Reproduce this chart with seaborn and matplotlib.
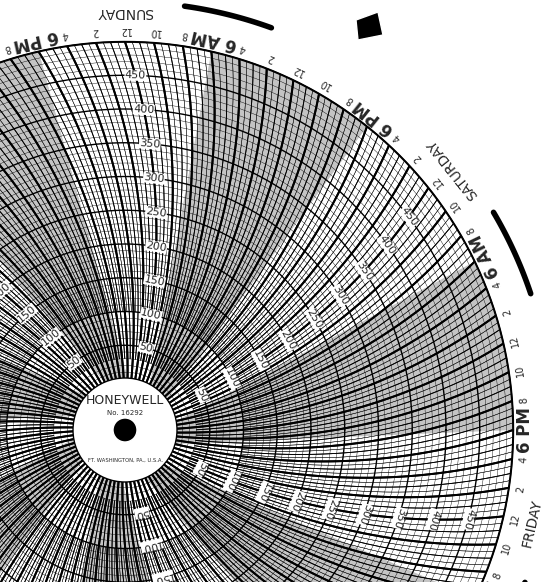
import numpy as np
import pandas as pd
import matplotlib
matplotlib.use("Agg")
import matplotlib.pyplot as plt
from matplotlib.collections import LineCollection
from matplotlib.patches import Circle, Polygon
import seaborn as sns

# ---- data ----
scale_values = [50, 100, 150, 200, 250, 300, 350, 400, 450]
days = ["THURSDAY", "FRIDAY", "SATURDAY", "SUNDAY", "MONDAY"]
day_noon_offset = [-30, -6, 18, 42, 66]          # hours from Friday 6 PM
hour_labels = ["12", "2", "4", "6 AM", "8", "10", "12", "2", "4", "6 PM", "8", "10"]
hour_label_offset = [6, 8, 10, 12, 14, 16, 18, 20, 22, 24, 26, 28]
brand = "HONEYWELL"
chart_no = "No. 16292"
maker = "FT. WASHINGTON, PA., U.S.A."

sns.set_style("white")
W, H = 552, 582
fig = plt.figure(figsize=(W / 100, H / 100), dpi=100)
ax = fig.add_axes([0, 0, 1, 1])
ax.set_xlim(0, W); ax.set_ylim(H, 0); ax.set_aspect("equal"); ax.axis("off")

cx, cy = 125, 430
R = 388.0
r_hub = 52.0
deg_per_h = 360 / 168

def rv(v):
    return 51 + v * 0.675

def xy(r, th):
    t = np.radians(th)
    return cx + r * np.cos(t), cy - r * np.sin(t)

def arc_angle(r, th0):
    return th0 - 0.6 * (np.degrees(np.arccos(np.clip(r / (2 * R), 0, 1))) - 60)

# night bands (6 PM - 6 AM)
for k in range(-5, 5):
    t0, t1 = k * 24, k * 24 + 12
    th = np.linspace(t0, t1, 60) * deg_per_h
    outer = [xy(R, arc_angle(R, a)) for a in th]
    inner = [xy(r_hub, arc_angle(r_hub, a)) for a in th[::-1]]
    ax.add_patch(Polygon(outer + inner, closed=True, fc="#c4c4c4", ec="none", zorder=0))

phi = np.linspace(0, 360, 720)
for v in range(0, 501, 10):
    lw = 1.0 if v % 50 == 0 else 0.3
    x, y = xy(rv(v), phi)
    ax.plot(x, y, color="black", lw=lw, zorder=1)

segs, lws = [], []
for m in range(-168 * 2, 168 * 2):
    t = m / 2.0
    if m % 4 == 0:
        r0, lw = r_hub, 1.4
    elif m % 2 == 0:
        r0, lw = rv(30), 0.6
    else:
        r0, lw = rv(100), 0.3
    rs = np.linspace(r0, R, 80)
    a = arc_angle(rs, t * deg_per_h)
    x, y = xy(rs, a)
    segs.append(np.column_stack([x, y]))
    lws.append(lw)
ax.add_collection(LineCollection(segs, colors="black", linewidths=lws, zorder=2))

x, y = xy(R, phi)
ax.plot(x, y, color="black", lw=1.2, zorder=3)

for off in day_noon_offset:
    th0 = off * deg_per_h
    for v in scale_values:
        r = rv(v)
        a = arc_angle(r, th0)
        px, py = xy(r, a)
        ax.text(px, py, str(v), fontsize=8, rotation=a - 90, ha="center", va="center",
                zorder=5, bbox=dict(fc="white", ec="none", pad=0.2))

for d in range(-2, 3):
    for lab, off in zip(hour_labels, hour_label_offset):
        t = d * 24 + off - 24
        th = arc_angle(R, t * deg_per_h)
        px, py = xy(R + 12, th)
        big = "M" in lab
        ax.text(px, py, lab, fontsize=12 if big else 7, fontweight="bold" if big else "normal",
                rotation=th + 90, ha="center", va="center", zorder=5)
for name, off in zip(days, day_noon_offset):
    th = arc_angle(R, off * deg_per_h)
    px, py = xy(R + 30, th)
    ax.text(px, py, name, fontsize=10, rotation=th + 90, ha="center", va="center", zorder=5)
    a = np.linspace(th - 20, th - 8, 40)
    x, y = xy(R + 40, a)
    ax.plot(x, y, color="black", lw=4, zorder=5)

ax.add_patch(Circle((cx, cy), r_hub, fc="white", ec="black", lw=1, zorder=6))
ax.add_patch(Circle((cx, cy), 12, fc="black", zorder=7))
ax.text(cx, cy - 30, brand, fontsize=9, ha="center", va="center", zorder=7)
ax.text(cx, cy - 17, chart_no, fontsize=5, ha="center", va="center", zorder=7)
ax.text(cx, cy + 30, maker, fontsize=3.8, ha="center", va="center", zorder=7)

ax.add_patch(Polygon([(356, 20), (378, 12), (383, 35), (358, 40)], fc="black", zorder=8))

fig.savefig("out.png", dpi=100)
